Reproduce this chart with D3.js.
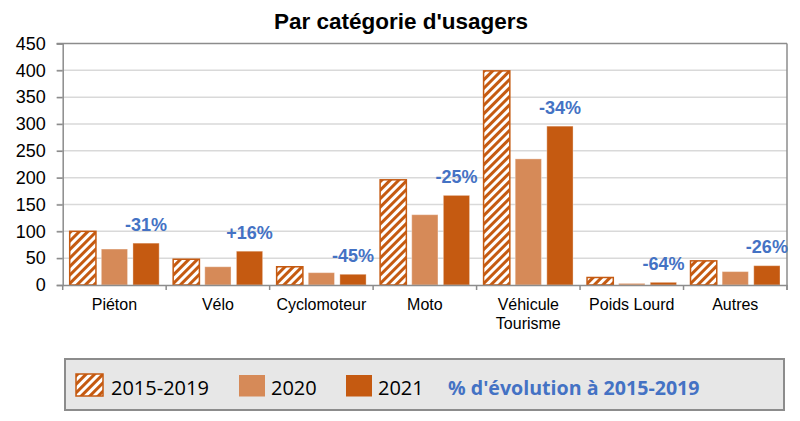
<!DOCTYPE html>
<html><head><meta charset="utf-8">
<script src="https://cdn.jsdelivr.net/npm/d3@7"></script>
<style>body{margin:0;background:#fff}svg{display:block}</style>
</head><body>
<svg id="c" width="800" height="421"></svg>
<script>
const categories = ["Piéton","Vélo","Cyclomoteur","Moto","Véhicule\nTourisme","Poids Lourd","Autres"];
const seriesNames = ["2015-2019","2020","2021"];
const v2015_2019 = [100,48,34,196,399,14,45];
const v2020 = [67,34,23,131,235,3,25];
const v2021 = [78,63,20,167,296,5,36];
const evolution = ["-31%","+16%","-45%","-25%","-34%","-64%","-26%"];
const yTicks = [0,50,100,150,200,250,300,350,400,450];
const title = "Par catégorie d'usagers";
const legendNote = "% d'évolution à 2015-2019";

const values = [v2015_2019, v2020, v2021];
const colors = ["url(#hatch)", "#D68A58", "#C55A11"];
const dark = "#C55A11";
const blue = "#4472C4";

const svg = d3.select("#c");
const defs = svg.append("defs");
const pat = defs.append("pattern").attr("id","hatch").attr("patternUnits","userSpaceOnUse")
  .attr("width",6).attr("height",6).attr("patternTransform","rotate(45)");
pat.append("rect").attr("width",6).attr("height",6).attr("fill","#fff");
pat.append("rect").attr("width",3).attr("height",6).attr("fill",dark);

const L = 62.7, R = 787, T = 43.5, B = 285;
const x = d3.scaleBand().domain(categories).range([L,R]).padding(0);
const x1 = d3.scaleBand().domain(seriesNames).range([7, x.bandwidth()-7]).paddingInner(0.17).paddingOuter(0);
const y = d3.scaleLinear().domain([0,450]).range([B,T]);

// gridlines
svg.append("g").selectAll("line").data(yTicks.filter(d=>d>0 && d<450)).join("line")
  .attr("x1",L-6).attr("x2",R).attr("y1",d=>y(d)).attr("y2",d=>y(d))
  .attr("stroke","#d9d9d9").attr("stroke-width",1.5);

// frame top/right
svg.append("line").attr("x1",L-6).attr("x2",R).attr("y1",T).attr("y2",T).attr("stroke","#8c8c8c").attr("stroke-width",1.5);
svg.append("line").attr("x1",R).attr("x2",R).attr("y1",T).attr("y2",B+5).attr("stroke","#8c8c8c").attr("stroke-width",1.5);

// y axis
const yAxis = svg.append("g").attr("transform",`translate(${L},0)`)
  .call(d3.axisLeft(y).tickValues(yTicks).tickSize(6).tickPadding(11).tickFormat(d3.format("d")));
yAxis.select(".domain").attr("stroke","#8c8c8c").attr("stroke-width",1.5);
yAxis.selectAll(".tick line").attr("stroke","#8c8c8c").attr("stroke-width",1.5);
yAxis.selectAll("text").attr("font-family","'Liberation Sans', Arial, sans-serif").attr("font-size",18).attr("fill","#000");

// bars
const groups = svg.append("g").selectAll("g").data(categories).join("g")
  .attr("transform",d=>`translate(${x(d)},0)`);
groups.selectAll("rect").data((c,i)=>seriesNames.map((s,j)=>({s,j,v:values[j][i]}))).join("rect")
  .attr("x",d=>x1(d.s)).attr("width",x1.bandwidth())
  .attr("y",d=>y(d.v)).attr("height",d=>B-y(d.v))
  .attr("fill",d=>colors[d.j])
  .attr("stroke",d=>d.j===0?dark:"rgba(255,255,255,0.35)")
  .attr("stroke-width",d=>d.j===0?1.5:1);

// x axis
const xAxis = svg.append("g").attr("transform",`translate(0,${B})`)
  .call(d3.axisBottom(x).tickSize(0).tickFormat(""));
xAxis.select(".domain").attr("stroke","#8c8c8c").attr("stroke-width",1.5);
xAxis.selectAll(".tick").remove();
svg.append("g").selectAll("line").data(categories.concat([null])).join("line")
  .attr("x1",(d,i)=> i<categories.length ? x(d) : R).attr("x2",(d,i)=> i<categories.length ? x(d) : R)
  .attr("y1",B).attr("y2",B+5).attr("stroke","#8c8c8c").attr("stroke-width",1.5);

// category labels
const cl = svg.append("g").selectAll("text").data(categories).join("text")
  .attr("x",d=>x(d)+x.bandwidth()/2).attr("y",310)
  .attr("text-anchor","middle").attr("font-family","'Liberation Sans', Arial, sans-serif").attr("font-size",16).attr("fill","#000");
cl.each(function(d){
  const lines = d.split("\n");
  d3.select(this).selectAll("tspan").data(lines).join("tspan")
    .attr("x",x(d)+x.bandwidth()/2).attr("dy",(l,k)=>k===0?0:19).text(l=>l);
});

// evolution labels
svg.append("g").selectAll("text").data(categories).join("text")
  .attr("x",(d)=>x(d)+x1("2021")+x1.bandwidth()/2)
  .attr("y",(d,i)=>y(v2021[i])-12.5)
  .attr("text-anchor","middle").attr("font-family","'Liberation Sans', Arial, sans-serif")
  .attr("font-weight","bold").attr("font-size",18).attr("fill",blue)
  .text((d,i)=>evolution[i]);

// title
svg.append("text").attr("x",401).attr("y",29).attr("text-anchor","middle")
  .attr("font-family","'Liberation Sans', Arial, sans-serif").attr("font-weight","bold").attr("font-size",22.5)
  .attr("fill","#000").text(title);

// legend
const lg = svg.append("g");
lg.append("rect").attr("x",65).attr("y",359).attr("width",719).attr("height",51)
  .attr("fill","#e7e7e7").attr("stroke","#8c8c8c").attr("stroke-width",2);
const legX = [76,239,346];
const legTX = [111,271,378];
seriesNames.forEach((s,j)=>{
  lg.append("rect").attr("x",legX[j]).attr("y",j===0?374:375).attr("width",j===0?27:26).attr("height",j===0?22:21.5)
    .attr("fill",colors[j]).attr("stroke",j===0?dark:"none").attr("stroke-width",1.5);
  lg.append("text").attr("x",legTX[j]).attr("y",395).attr("font-family","'Open Sans', sans-serif")
    .attr("font-size",20).attr("fill","#000").text(s);
});
lg.append("text").attr("x",448).attr("y",395).attr("font-family","'Open Sans', sans-serif")
  .attr("font-weight","bold").attr("font-size",19.6).attr("fill",blue).text(legendNote);
</script>
</body></html>
